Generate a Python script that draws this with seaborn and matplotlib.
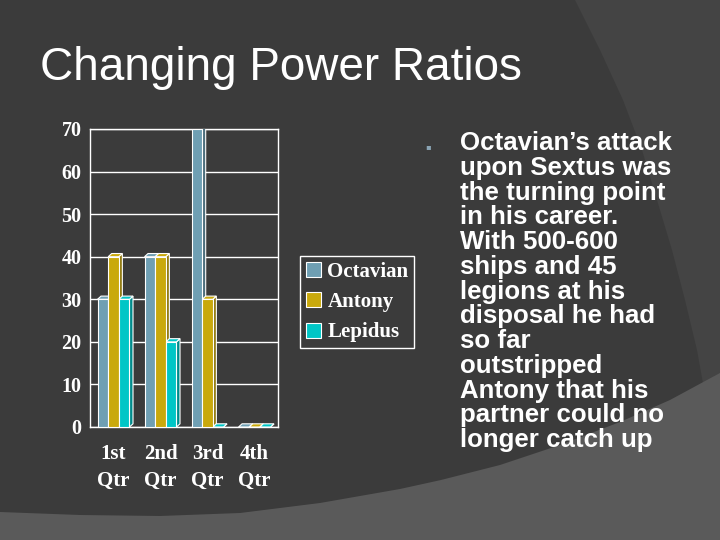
import pandas as pd
import numpy as np
import matplotlib.pyplot as plt
import matplotlib.colors as mcolors
from matplotlib.patches import Polygon
import seaborn as sns

################ DATA ################
quarters = ["1st\nQtr", "2nd\nQtr", "3rd\nQtr", "4th\nQtr"]
leaders = ["Octavian", "Antony", "Lepidus"]
octavian = [30, 40, 70, 0]
antony = [40, 40, 30, 0]
lepidus = [30, 20, 0, 0]
y_ticks = [0, 10, 20, 30, 40, 50, 60, 70]

title = "Changing Power Ratios"
body_lines = [
    "Octavian\u2019s attack",
    "upon Sextus was",
    "the turning point",
    "in his career.",
    "With 500-600",
    "ships and 45",
    "legions at his",
    "disposal he had",
    "so far",
    "outstripped",
    "Antony that his",
    "partner could no",
    "longer catch up",
]

df = pd.DataFrame({
    "quarter": quarters * 3,
    "leader": np.repeat(leaders, len(quarters)),
    "value": octavian + antony + lepidus,
})

palette = {"Octavian": "#6f9fb3", "Antony": "#c9a90c", "Lepidus": "#00c6c6"}

BG = "#3b3b3b"
W, H = 720, 540


def fx(px):
    return px / W


def fy(py):
    return 1 - py / H


################ FIGURE / BACKGROUND ################
sns.set_style("dark")
fig = plt.figure(figsize=(7.2, 5.4), dpi=100)
fig.patch.set_facecolor(BG)

# lighter arc top right
arc_pts = [(575, 0), (600, 50), (623, 100), (642, 150), (657, 200), (672, 250),
           (685, 300), (697, 350), (706, 400), (720, 420), (720, 0)]
fig.patches.append(Polygon([(fx(x), fy(y)) for x, y in arc_pts], closed=True,
                           transform=fig.transFigure, facecolor="#444444",
                           edgecolor="none", zorder=0))
# lighter band at bottom
band_pts = [(0, 512), (80, 515), (160, 516), (240, 513), (320, 503), (400, 489),
            (441, 480), (500, 465), (560, 445), (620, 422), (670, 400),
            (707, 380), (720, 373), (720, 540), (0, 540)]
fig.patches.append(Polygon([(fx(x), fy(y)) for x, y in band_pts], closed=True,
                           transform=fig.transFigure, facecolor="#5a5a5a",
                           edgecolor="none", zorder=0))

################ TITLE / TEXT ################
fig.text(fx(40), fy(68), title, fontsize=33, color="white",
         family="Liberation Sans", va="center", ha="left")

fig.text(fx(428), fy(147), "\u25aa", fontsize=6, color="#8aa4b4",
         va="center", ha="center", family="DejaVu Sans")
fig.text(fx(460), fy(131), "\n".join(body_lines), fontsize=18.6, color="white",
         family="Liberation Sans", weight="bold", va="top", ha="left",
         linespacing=1.04)

################ BAR CHART ################
ax = fig.add_axes([fx(90), fy(427), fx(278) - fx(90), fy(129) - fy(427)])
ax.set_facecolor("none")

sns.barplot(data=df, x="quarter", y="value", hue="leader", hue_order=leaders,
            palette=palette, width=0.68, saturation=1, edgecolor="white",
            linewidth=0.8, ax=ax, zorder=3)

handles, labels = ax.get_legend_handles_labels()
if ax.get_legend() is not None:
    ax.get_legend().remove()

# fake 3D faces (side + top) from the library's bars
dx, dy = 0.075, 0.75
for bar in list(ax.patches):
    x0 = bar.get_x()
    x1 = x0 + bar.get_width()
    h = bar.get_height()
    col = np.array(mcolors.to_rgb(bar.get_facecolor()))
    side = Polygon([(x1, 0), (x1 + dx, dy), (x1 + dx, h + dy), (x1, h)],
                   closed=True, facecolor=col * 0.7, edgecolor="white",
                   linewidth=0.8, zorder=2.6)
    top = Polygon([(x0, h), (x0 + dx, h + dy), (x1 + dx, h + dy), (x1, h)],
                  closed=True, facecolor=col, edgecolor="white",
                  linewidth=0.8, zorder=2.6)
    ax.add_patch(side)
    ax.add_patch(top)

ax.set_xlim(-0.5, 3.5)
ax.set_ylim(0, 70)
ax.set_yticks(y_ticks)
ax.set_xlabel("")
ax.set_ylabel("")

ax.grid(False)
ax.yaxis.grid(True, color="white", linewidth=1.0)
ax.set_axisbelow(True)
for s in ax.spines.values():
    s.set_visible(True)
    s.set_color("white")
    s.set_linewidth(1.0)

ax.set_xticks(range(len(quarters)))
ax.set_xticklabels(quarters)
ax.set_xticks([0.5, 1.5, 2.5, 3.5], minor=True)
ax.tick_params(axis="x", which="major", length=0, pad=12, colors="white")
ax.tick_params(axis="x", which="minor", length=4, color="white", direction="out")
ax.tick_params(axis="y", length=4, color="white", direction="out", pad=2,
               colors="white")
for lab in ax.get_xticklabels():
    lab.set_fontfamily("Liberation Serif")
    lab.set_fontweight("bold")
    lab.set_fontsize(15)
    lab.set_color("white")
    lab.set_linespacing(1.5)
for lab in ax.get_yticklabels():
    lab.set_fontfamily("Liberation Serif")
    lab.set_fontweight("bold")
    lab.set_fontsize(14.5)
    lab.set_color("white")

################ LEGEND ################
leg = fig.legend(handles, labels, loc="center",
                 bbox_to_anchor=(fx(357), fy(302)),
                 frameon=True, fancybox=False, framealpha=1,
                 facecolor=BG, edgecolor="white",
                 prop={"family": "Liberation Serif", "weight": "bold", "size": 15},
                 handlelength=0.75, handleheight=0.75, handletextpad=0.3,
                 labelspacing=0.5, borderpad=0.25, borderaxespad=0)
leg.get_frame().set_linewidth(1.0)
for t in leg.get_texts():
    t.set_color("white")
for p in leg.get_patches():
    p.set_edgecolor("white")
    p.set_linewidth(0.8)

fig.savefig("out.png", dpi=100, facecolor=fig.get_facecolor())
